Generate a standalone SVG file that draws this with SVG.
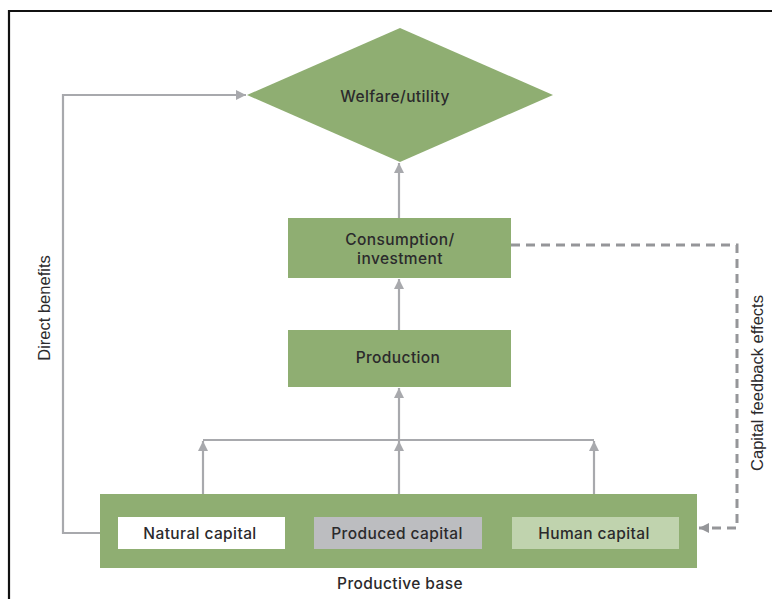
<svg xmlns="http://www.w3.org/2000/svg" width="772" height="599" viewBox="0 0 772 599">
<style>
.lbl{font-family:Inter,"Liberation Sans",sans-serif;font-size:15.5px;font-weight:500;fill:#2b2a2c;text-anchor:middle;dominant-baseline:central;letter-spacing:0.4px}
.side{font-family:"Liberation Sans",Arial,sans-serif;font-size:16.5px;fill:#2b2a2c;text-anchor:middle;dominant-baseline:central}
.green{fill:#8fae72}
.con{fill:none;stroke:#a8a9ad;stroke-width:2.2}
.dash{fill:none;stroke:#959699;stroke-width:3;stroke-dasharray:9 6}
</style>
<defs>
<marker id="ah" viewBox="0 0 10 10" refX="10" refY="5" markerWidth="10" markerHeight="10" markerUnits="userSpaceOnUse" orient="auto">
<path d="M0,0 L10,5 L0,10 z" fill="#a8a9ad"/>
</marker>
<marker id="ahd" viewBox="0 0 10 10" refX="10" refY="5" markerWidth="10" markerHeight="10" markerUnits="userSpaceOnUse" orient="auto">
<path d="M0,0 L10,5 L0,10 z" fill="#959699"/>
</marker>
</defs>
<rect width="772" height="599" fill="#ffffff"/>
<path d="M9,599 V11 H772" fill="none" stroke="#111" stroke-width="2.2"/>
<g id="connectors">
<path class="con" d="M102,533 H63 V95 H246" marker-end="url(#ah)"/>
<path class="con" d="M399,218 V163" marker-end="url(#ah)"/>
<path class="con" d="M399,330 V279" marker-end="url(#ah)"/>
<path class="con" d="M399,440 V388" marker-end="url(#ah)"/>
<path class="con" d="M203,440 H594"/>
<path class="con" d="M203,494 V441" marker-end="url(#ah)"/>
<path class="con" d="M399,494 V441" marker-end="url(#ah)"/>
<path class="con" d="M594,494 V441" marker-end="url(#ah)"/>
<path class="dash" d="M511,245 H737 V528 H699" marker-end="url(#ahd)"/>
<text class="side" transform="translate(44,308) rotate(-90)">Direct benefits</text>
<text class="side" transform="translate(757,383) rotate(-90)">Capital feedback effects</text>
</g>
<g id="welfare">
<polygon class="green" points="247,95 400,28 553,95 400,162"/>
<text class="lbl" x="395" y="96">Welfare/utility</text>
</g>
<g id="consumption">
<rect class="green" x="288" y="218" width="223" height="60"/>
<text class="lbl" x="400" y="239.5">Consumption/</text>
<text class="lbl" x="400" y="258.5">investment</text>
</g>
<g id="production">
<rect class="green" x="288" y="330" width="223" height="57"/>
<text class="lbl" x="398" y="357">Production</text>
</g>
<g id="productive-base">
<rect class="green" x="100" y="494" width="597" height="74"/>
<text class="lbl" x="400" y="583">Productive base</text>
</g>
<g id="natural-capital">
<rect x="118" y="517" width="167" height="32" fill="#ffffff"/>
<text class="lbl" x="200" y="533">Natural capital</text>
</g>
<g id="produced-capital">
<rect x="314" y="517" width="168" height="32" fill="#bcbdc0"/>
<text class="lbl" x="397" y="533">Produced capital</text>
</g>
<g id="human-capital">
<rect x="512" y="517" width="167" height="32" fill="#c0d3ae"/>
<text class="lbl" x="594" y="533">Human capital</text>
</g>
</svg>
